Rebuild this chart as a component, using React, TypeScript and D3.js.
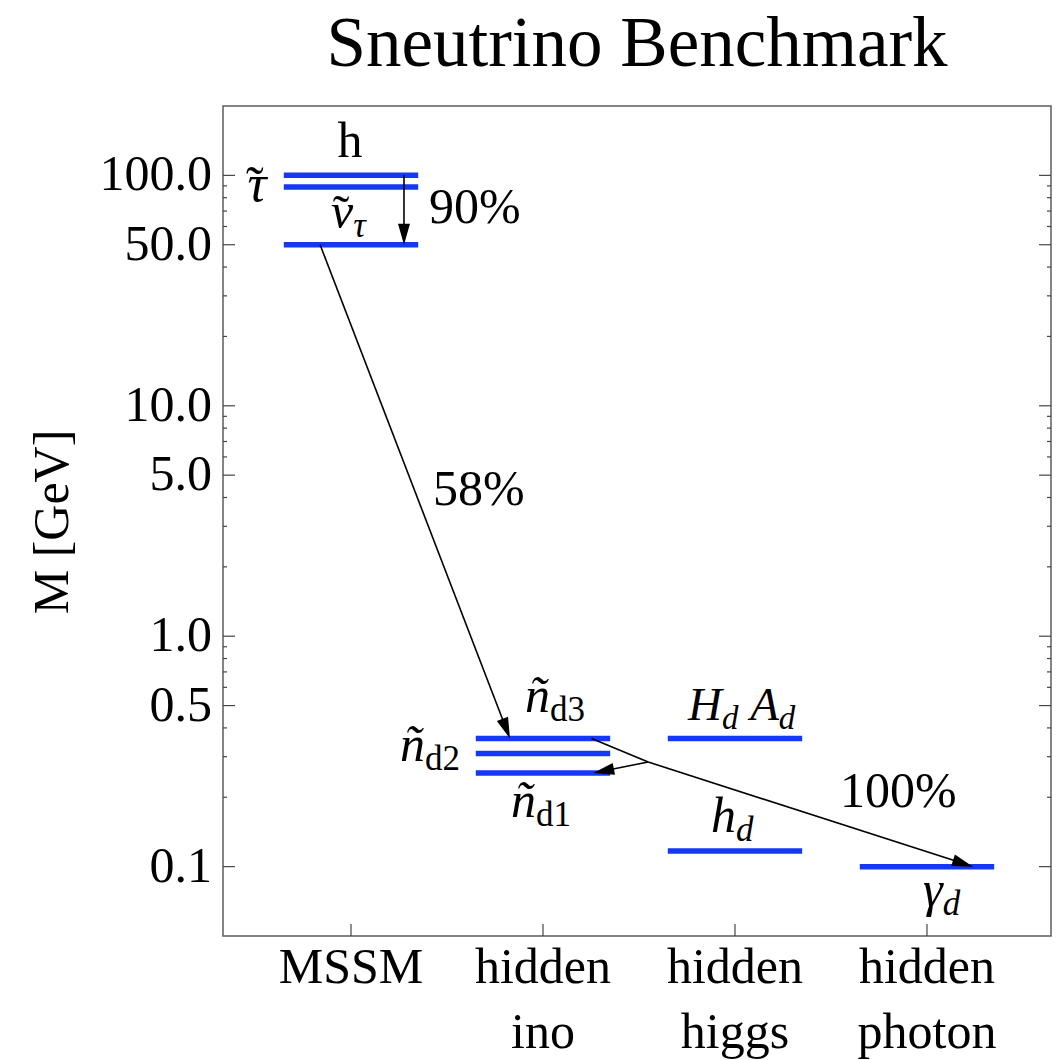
import React from 'react';
import * as d3 from 'd3';

// ---- data -------------------------------------------------------------
const categoryLines: string[][] = [
  ['MSSM'],
  ['hidden', 'ino'],
  ['hidden', 'higgs'],
  ['hidden', 'photon'],
];
const categoryPos = [1, 2, 3, 4];

// mass levels (GeV) per sector
const mssmMasses = [100, 89, 50];
const inoMasses = [0.36, 0.31, 0.255];
const higgsMasses = [0.36, 0.117];
const photonMasses = [0.1];

const majorTicks = [0.1, 0.5, 1, 5, 10, 50, 100];

// decay arrows: [category position, mass] endpoints
type Pt = [number, number];
const decaySegments: { from: Pt; to: Pt; head: boolean }[] = [
  { from: [1.276, 100], to: [1.276, 50], head: true },
  { from: [0.839, 50], to: [1.828, 0.36], head: true },
  { from: [2.253, 0.36], to: [2.548, 0.2845], head: false },
  { from: [2.548, 0.2845], to: [4.24, 0.1], head: true },
  { from: [2.548, 0.2845], to: [2.262, 0.255], head: true },
];
const branchingLabels: { text: string; at: Pt }[] = [
  { text: '90%', at: [1.406, 62] },
  { text: '58%', at: [1.427, 3.7] },
  { text: '100%', at: [3.547, 0.1816] },
];

// state labels, anchored to a level with a pixel offset.
// A part may carry its own horizontal nudge (dx) and baseline shift (shift, px down).
type Part = { t: string; italic?: boolean; sub?: boolean; dx?: number; shift?: number };
type StateLabel = {
  cat: number;
  mass: number;
  dx: number;
  dy: number;
  anchor: string;
  size?: number;
  parts: Part[];
};
const TILDE = '\u02DC';
const stateLabels: StateLabel[] = [
  { cat: 1, mass: 100, dx: -1, dy: -18, anchor: 'middle', parts: [{ t: 'h' }] },
  {
    cat: 1, mass: 89, dx: -105, dy: 14, anchor: 'start', size: 53,
    parts: [{ t: '\u03C4', italic: true }, { t: TILDE, dx: -20.5, shift: 2 }],
  },
  {
    cat: 1, mass: 50, dx: -20, dy: -17, anchor: 'start',
    parts: [{ t: '\u03BD', italic: true }, { t: TILDE, dx: -20.5, shift: 2 }, { t: '\u03C4', italic: true, sub: true, dx: 3.8 }],
  },
  { cat: 2, mass: 0.36, dx: -18, dy: -26, anchor: 'start', parts: [{ t: '\u00F1', italic: true }, { t: 'd3', sub: true }] },
  { cat: 2, mass: 0.31, dx: -83, dy: 8, anchor: 'end', parts: [{ t: '\u00F1', italic: true }, { t: 'd2', sub: true }] },
  { cat: 2, mass: 0.255, dx: -32, dy: 44, anchor: 'start', parts: [{ t: '\u00F1', italic: true }, { t: 'd1', sub: true }] },
  {
    cat: 3, mass: 0.36, dx: -47, dy: -18, anchor: 'start', size: 47,
    parts: [{ t: 'H', italic: true }, { t: 'd', italic: true, sub: true }, { t: ' ' }, { t: 'A', italic: true }, { t: 'd', italic: true, sub: true }],
  },
  { cat: 3, mass: 0.117, dx: -24, dy: -19, anchor: 'start', parts: [{ t: 'h', italic: true }, { t: 'd', italic: true, sub: true }] },
  { cat: 4, mass: 0.1, dx: -4, dy: 39, anchor: 'start', parts: [{ t: '\u03B3', italic: true }, { t: 'd', italic: true, sub: true }] },
];

// ---- layout -----------------------------------------------------------
const W = 1057;
const H = 1060;
const frame = { left: 223, right: 1051, top: 106, bottom: 936 };
const FONT = '"Liberation Serif", "Times New Roman", serif';
const BLUE = '#1438f5';
const halfWidth = 0.35;

const x = d3.scaleLinear().domain([1 / 3, 4.646]).range([frame.left, frame.right]);
const y = d3.scaleLog().domain([0.05, 200]).range([frame.bottom, frame.top]);

const minorTicks = y
  .ticks()
  .filter((v) => v > 0.1 && v < 100 && !majorTicks.some((m) => Math.abs(m - v) < 1e-9));

function RichText({ px, py, parts, anchor, size = 50 }: { px: number; py: number; parts: Part[]; anchor: string; size?: number }) {
  const subShift = size * 0.18;
  let current = 0;
  return (
    <text x={px} y={py} textAnchor={anchor as any} fontSize={size} fontFamily={FONT}>
      {parts.map((p, i) => {
        const target = p.shift !== undefined ? p.shift : p.sub ? subShift : 0;
        const dy = target - current;
        current = target;
        return (
          <tspan
            key={i}
            dx={p.dx ?? 0}
            dy={dy}
            fontStyle={p.italic ? 'italic' : 'normal'}
            fontSize={p.sub ? size * 0.7 : size}
          >
            {p.t}
          </tspan>
        );
      })}
    </text>
  );
}

function Arrow({ from, to, head }: { from: Pt; to: Pt; head: boolean }) {
  const x1 = x(from[0]), y1 = y(from[1]);
  const x2 = x(to[0]), y2 = y(to[1]);
  const len = Math.hypot(x2 - x1, y2 - y1);
  const ux = (x2 - x1) / len, uy = (y2 - y1) / len;
  const hl = 21, hw = 6;
  const bx = x2 - ux * hl, by = y2 - uy * hl;
  const endX = head ? x2 - ux * (hl - 2) : x2;
  const endY = head ? y2 - uy * (hl - 2) : y2;
  return (
    <g>
      <line x1={x1} y1={y1} x2={endX} y2={endY} stroke="#000" strokeWidth={1.6} />
      {head && (
        <polygon
          points={`${x2},${y2} ${bx - uy * hw},${by + ux * hw} ${bx + uy * hw},${by - ux * hw}`}
          fill="#000"
        />
      )}
    </g>
  );
}

export default function App() {
  const sectors = [mssmMasses, inoMasses, higgsMasses, photonMasses];
  return (
    <svg width={W} height={H} style={{ position: 'absolute', left: 0, top: 0, background: '#fff' }}>
      <rect width={W} height={H} fill="#fff" />
      {/* title */}
      <text x={(frame.left + frame.right) / 2} y={66} textAnchor="middle" fontSize={71} fontFamily={FONT}>
        Sneutrino Benchmark
      </text>

      {/* frame */}
      <rect x={frame.left} y={frame.top} width={frame.right - frame.left} height={frame.bottom - frame.top} fill="none" stroke="#666" strokeWidth={1.6} />

      {/* y ticks, left and right */}
      {majorTicks.map((v) => (
        <g key={'M' + v}>
          <line x1={frame.left} x2={frame.left + 12} y1={y(v)} y2={y(v)} stroke="#444" strokeWidth={1.2} />
          <line x1={frame.right} x2={frame.right - 12} y1={y(v)} y2={y(v)} stroke="#444" strokeWidth={1.2} />
          <text x={212} y={y(v) + 15} textAnchor="end" fontSize={50} fontFamily={FONT}>
            {d3.format('.1f')(v)}
          </text>
        </g>
      ))}
      {minorTicks.map((v) => (
        <g key={'m' + v}>
          <line x1={frame.left} x2={frame.left + 4} y1={y(v)} y2={y(v)} stroke="#444" strokeWidth={1.2} />
          <line x1={frame.right} x2={frame.right - 4} y1={y(v)} y2={y(v)} stroke="#444" strokeWidth={1.2} />
        </g>
      ))}

      {/* x ticks and category labels */}
      {categoryPos.map((c, i) => (
        <g key={'c' + c}>
          <line x1={x(c)} x2={x(c)} y1={frame.bottom} y2={frame.bottom - 12} stroke="#444" strokeWidth={1.2} />
          <text textAnchor="middle" fontSize={50} fontFamily={FONT}>
            {categoryLines[i].map((l, j) => (
              <tspan key={j} x={x(c)} y={983 + j * 65}>{l}</tspan>
            ))}
          </text>
        </g>
      ))}

      {/* y axis title */}
      <text transform={`translate(68, 522) rotate(-90)`} textAnchor="middle" fontSize={50} fontFamily={FONT}>
        M [GeV]
      </text>

      {/* mass levels */}
      {sectors.map((masses, i) =>
        masses.map((m, j) => (
          <line
            key={`l${i}-${j}`}
            x1={x(categoryPos[i] - halfWidth)}
            x2={x(categoryPos[i] + halfWidth)}
            y1={y(m)}
            y2={y(m)}
            stroke={BLUE}
            strokeWidth={5.5}
          />
        ))
      )}

      {/* decays */}
      {decaySegments.map((s, i) => (
        <Arrow key={'a' + i} from={s.from} to={s.to} head={s.head} />
      ))}
      {branchingLabels.map((b, i) => (
        <text key={'b' + i} x={x(b.at[0])} y={y(b.at[1])} fontSize={50} fontFamily={FONT}>
          {b.text}
        </text>
      ))}

      {/* state labels */}
      {stateLabels.map((s, i) => (
        <RichText
          key={'s' + i}
          px={x(s.cat) + s.dx}
          py={y(s.mass) + s.dy}
          parts={s.parts}
          anchor={s.anchor}
          size={s.size}
        />
      ))}
    </svg>
  );
}
